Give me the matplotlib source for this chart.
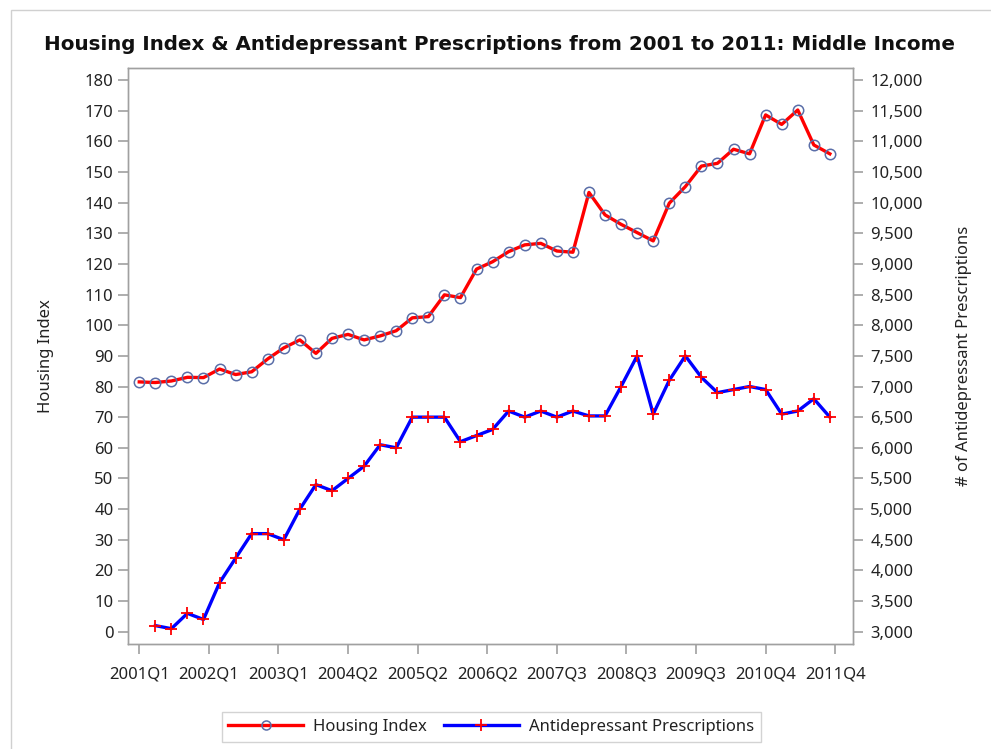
import matplotlib
matplotlib.use("Agg")
import matplotlib.pyplot as plt
from matplotlib.lines import Line2D
from matplotlib.patches import Rectangle
from matplotlib.ticker import FuncFormatter, MultipleLocator

plt.rcParams['font.family'] = ['Noto Sans', 'DejaVu Sans']

# ---- data ----
quarters = [f"{y}Q{q}" for y in range(2001, 2012) for q in range(1, 5)]
housing_index = [81.5, 81.3, 81.8, 83.0, 82.9, 85.7, 83.9, 84.8, 89.0, 92.6,
                 95.2, 90.8, 95.7, 97.0, 95.2, 96.5, 98.2, 102.4, 102.8, 109.9,
                 109.0, 118.3, 120.7, 124.0, 126.2, 126.7, 124.2, 123.8, 143.3, 136.0,
                 132.9, 130.2, 127.5, 139.8, 145.2, 151.9, 152.8, 157.4, 155.9, 168.6,
                 165.5, 170.2, 158.8, 155.9]
# antidepressant series starts at 2001Q2
antidep_quarters = quarters[1:]
antidep = [3100, 3050, 3300, 3200, 3800, 4200, 4600, 4600, 4500, 5000,
           5400, 5300, 5500, 5700, 6050, 6000, 6500, 6500, 6500, 6100,
           6200, 6300, 6600, 6500, 6600, 6500, 6600, 6520, 6520, 7000,
           7500, 6550, 7100, 7500, 7150, 6900, 6950, 7000, 6950, 6550,
           6600, 6800, 6500]
tick_labels = ["2001Q1", "2002Q1", "2003Q1", "2004Q2", "2005Q2", "2006Q2",
               "2007Q3", "2008Q3", "2009Q3", "2010Q4", "2011Q4"]

x_h = [quarters.index(q) for q in quarters]
x_a = [quarters.index(q) for q in antidep_quarters]

W, H = 991, 749
fig = plt.figure(figsize=(W / 100, H / 100), dpi=100)
ax = fig.add_axes([128 / W, 1 - 644 / H, (853 - 128) / W, (644 - 68) / H])
ax2 = ax.twinx()

frame_col = '#a0a0a0'
txt_col = '#222222'

# outer border
fig.patches.append(Rectangle((11 / W, -0.01), 1.0, 1 - 10 / H + 0.01,
                             transform=fig.transFigure, fill=False,
                             edgecolor='#d0d0d0', linewidth=1.0))

ax.plot(x_h, housing_index, color='#ff0000', linewidth=2.4, marker='o',
        markersize=7.5, markerfacecolor='none', markeredgecolor='#5a6ea8',
        markeredgewidth=1.1, zorder=3)
ax2.plot(x_a, antidep, color='#0000ff', linewidth=2.4, marker='+',
         markersize=9, markeredgecolor='#ff0000', markeredgewidth=1.3, zorder=3)

ax.set_xlim(-0.7, 44.44)
ax.set_ylim(-4.0, 183.9)
ax2.set_ylim(3000 + 50 * -4.0, 3000 + 50 * 183.9)

ax.yaxis.set_major_locator(MultipleLocator(10))
ax2.yaxis.set_major_locator(MultipleLocator(500))
ax2.yaxis.set_major_formatter(FuncFormatter(lambda v, p: f"{int(v):,}"))

tick_pos = [k * 13 / 3 for k in range(len(tick_labels))]
ax.set_xticks(tick_pos)
ax.set_xticklabels(tick_labels)

for a in (ax, ax2):
    for s in a.spines.values():
        s.set_color(frame_col)
        s.set_linewidth(1.0)
    a.tick_params(axis='both', colors=frame_col, labelcolor=txt_col,
                  length=7.5, width=1.2, labelsize=12, pad=3)
ax.tick_params(axis='x', pad=9)
ax2.tick_params(axis='y', pad=5)

ax.set_ylabel("Housing Index", fontsize=12, color=txt_col, labelpad=22)
ax2.set_ylabel("# of Antidepressant Prescriptions", fontsize=12,
               color=txt_col, labelpad=24)

fig.text(500 / W, 1 - 44 / H,
         "Housing Index & Antidepressant Prescriptions from 2001 to 2011: Middle Income",
         ha='center', va='center', fontsize=14.3, fontweight='bold',
         family='DejaVu Sans', color='#111111')

handles = [
    Line2D([], [], color='#ff0000', linewidth=2.4, marker='o', markersize=6.5,
           markerfacecolor='none', markeredgecolor='#5a6ea8', markeredgewidth=1.1),
    Line2D([], [], color='#0000ff', linewidth=2.4, marker='+', markersize=9,
           markeredgecolor='#ff0000', markeredgewidth=1.3),
]
leg = fig.legend(handles, ["Housing Index", "Antidepressant Prescriptions"],
                 loc='center', bbox_to_anchor=(491 / W, 1 - 727 / H), ncol=2,
                 fontsize=12, frameon=True, fancybox=False, handlelength=4.5,
                 columnspacing=1.0, handletextpad=0.6, borderpad=0.4,
                 borderaxespad=0.0)
leg.get_frame().set_edgecolor('#c8c8c8')
leg.get_frame().set_linewidth(1.0)
for t in leg.get_texts():
    t.set_color(txt_col)

fig.savefig("out.png", dpi=100)
